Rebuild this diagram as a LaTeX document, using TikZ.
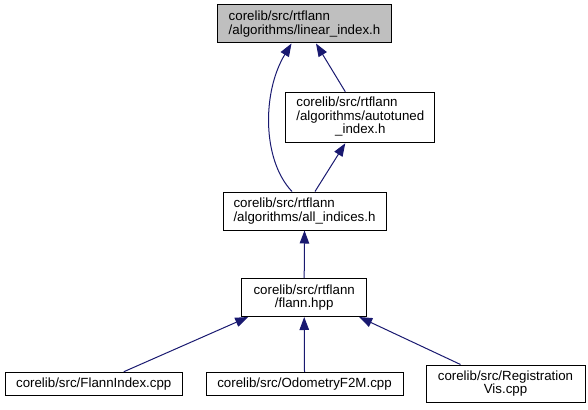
\documentclass[tikz,border=0pt]{standalone}
\usepackage{fontspec}
\setmainfont{Liberation Sans}
\usetikzlibrary{arrows.meta}
\definecolor{edgeblue}{HTML}{191970}
\definecolor{hilite}{HTML}{BFBFBF}
\tikzset{
  box/.style={draw=black, line width=1pt, fill=white, inner sep=0pt, font=\fontsize{13.3}{13.6}\selectfont},
  edge/.style={draw=edgeblue, line width=1pt, -{Triangle[length=13pt,width=9.5pt]}, edgeblue},
}
\begin{document}
\begin{tikzpicture}[x=1pt,y=-1pt]
\useasboundingbox (0,0) rectangle (588,409);
\node[box, fill=hilite, minimum width=174pt, minimum height=38pt, align=left] (li) at (304.5,24)
  {corelib/src/rtflann\\/algorithms/linear\_index.h};
\node[box, minimum width=149pt, minimum height=50.5pt] (at) at (360.3,117.5)
  {\begin{tabular}{@{}l@{}}corelib/src/rtflann\\/algorithms/autotuned\\\multicolumn{1}{@{}c@{}}{\_index.h}\end{tabular}};
\node[box, minimum width=163pt, minimum height=38pt, align=left] (ai) at (304.5,211)
  {corelib/src/rtflann\\/algorithms/all\_indices.h};
\node[box, minimum width=125pt, minimum height=38pt, align=center] (fl) at (304.2,297.5)
  {corelib/src/rtflann\\/flann.hpp};
\node[box, minimum width=177.5pt, minimum height=23.5pt] (fi) at (93.75,384)
  {corelib/src/FlannIndex.cpp};
\node[box, minimum width=197pt, minimum height=23.5pt] (od) at (304.5,384)
  {corelib/src/OdometryF2M.cpp};
\node[box, minimum width=159pt, minimum height=37pt, align=center] (rv) at (505.5,383.5)
  {corelib/src/Registration\\Vis.cpp};
\draw[edge] ([xshift=-12.5pt]ai.north) .. controls (262,160) and (262,92) .. ([xshift=-13pt]li.south);
\draw[edge] ([xshift=-15pt]at.north) -- ([xshift=11.5pt]li.south);
\draw[edge] ([xshift=10.5pt]ai.north) -- ([xshift=-15pt]at.south);
\draw[edge] (fl.north) -- (ai.south);
\draw[edge] ([xshift=30pt]fi.north) -- ([xshift=-56pt]fl.south);
\draw[edge] (od.north) -- (fl.south);
\draw[edge] ([xshift=-45pt]rv.north) -- ([xshift=55pt]fl.south);
\end{tikzpicture}
\end{document}
